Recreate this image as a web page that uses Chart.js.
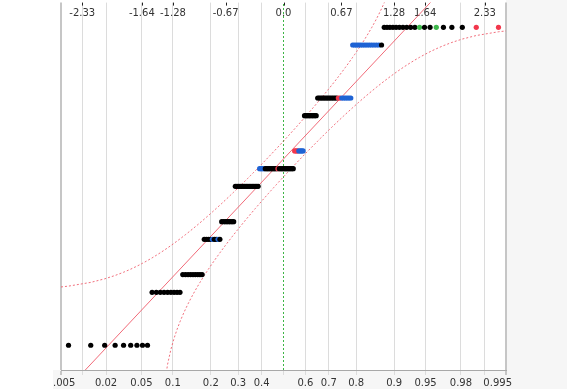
<!DOCTYPE html>
<html>
<head>
<meta charset="utf-8">
<script src="https://cdn.jsdelivr.net/npm/chart.js@4.4.1/dist/chart.umd.min.js"></script>
<style>
html,body{margin:0;padding:0;background:#fff;overflow:hidden}
#wrap{width:567px;height:389px;position:relative}
</style>
</head>
<body>
<div id="wrap"><canvas id="c" width="567" height="389"></canvas></div>
<script>
// ---- data ----
const levels = [0, 3, 4, 6, 7, 9, 10, 11, 13, 14, 17, 18];          // observed values (sorted)
const counts = [9, 9, 9, 9, 8, 16, 25, 7, 9, 21, 14, 19];            // how many observations at each value
const blueRanks  = [32, 35, 61, 62, 63, 64, 89, 90, 91, 92, 117, 118, 119, 120, 121, 122,
                    123, 124, 125, 126, 127, 128, 129, 130, 131, 132, 133, 134, 135];
const redRanks   = [74, 86, 87, 88, 115, 116, 154, 155];
const greenRanks = [147, 150];
const bottomTickProbs  = [0.005, 0.01, 0.02, 0.05, 0.1, 0.2, 0.3, 0.4, 0.5, 0.6, 0.7, 0.8, 0.9, 0.95, 0.98, 0.99, 0.995];
const bottomTickLabels = ['0.005', '', '0.02', '0.05', '0.1', '0.2', '0.3', '0.4', '', '0.6', '0.7', '0.8', '0.9', '0.95', '0.98', '', '0.995'];
const topTickLabels    = ['-2.33', '-1.64', '-1.28', '-0.67', '0.0', '0.67', '1.28', '1.64', '2.33'];
const bandWidth = 0.077;   // half-width of the confidence band (probability units)
const yRange = [-1.4, 19.4];

// ---- normal distribution helpers ----
function probit(p){
  const a=[-3.969683028665376e+01,2.209460984245205e+02,-2.759285104469687e+02,1.383577518672690e+02,-3.066479806614716e+01,2.506628277459239e+00];
  const b=[-5.447609879822406e+01,1.615858368580409e+02,-1.556989798598866e+02,6.680131188771972e+01,-1.328068155288572e+01];
  const c=[-7.784894002430293e-03,-3.223964580411365e-01,-2.400758277161838e+00,-2.549732539343734e+00,4.374664141464968e+00,2.938163982698783e+00];
  const d=[7.784695709041462e-03,3.224671290700398e-01,2.445134137142996e+00,3.754408661907416e+00];
  const pl=0.02425, ph=1-pl; let q,r;
  if(p<pl){q=Math.sqrt(-2*Math.log(p));return (((((c[0]*q+c[1])*q+c[2])*q+c[3])*q+c[4])*q+c[5])/((((d[0]*q+d[1])*q+d[2])*q+d[3])*q+1);}
  if(p>ph){q=Math.sqrt(-2*Math.log(1-p));return -(((((c[0]*q+c[1])*q+c[2])*q+c[3])*q+c[4])*q+c[5])/((((d[0]*q+d[1])*q+d[2])*q+d[3])*q+1);}
  q=p-0.5;r=q*q;
  return (((((a[0]*r+a[1])*r+a[2])*r+a[3])*r+a[4])*r+a[5])*q/(((((b[0]*r+b[1])*r+b[2])*r+b[3])*r+b[4])*r+1);
}
function cdf(z){
  const t=1/(1+0.2316419*Math.abs(z));
  const dd=0.3989422804*Math.exp(-z*z/2);
  const pr=dd*t*(0.319381530+t*(-0.356563782+t*(1.781477937+t*(-1.821255978+t*1.330274429))));
  return z>0?1-pr:pr;
}

// ---- build probability plot ----
const obs = [];
levels.forEach((v,i)=>{ for(let k=0;k<counts[i];k++) obs.push(v); });
const n = obs.length;
const points = obs.map((v,k)=>({x: probit((k+1)/(n+1)), y: v}));
const pointColors = obs.map((v,k)=>{
  const r=k+1;
  if(blueRanks.includes(r)) return '#1f63d4';
  if(redRanks.includes(r)) return '#f2374c';
  if(greenRanks.includes(r)) return '#3fb84c';
  return '#000000';
});
const mean = obs.reduce((s,v)=>s+v,0)/n;
const sd = Math.sqrt(obs.reduce((s,v)=>s+(v-mean)*(v-mean),0)/(n-1));
const zMin = probit(bottomTickProbs[0]);
const zMax = probit(bottomTickProbs[bottomTickProbs.length-1]);
const fitLine = [{x:zMin, y:mean+sd*zMin},{x:zMax, y:mean+sd*zMax}];
const bandZ = [zMin, ...points.map(p=>p.x), zMax];
const bandUpper = bandZ.filter(z=>cdf(z)+bandWidth<1).map(z=>({x:z, y:mean+sd*probit(cdf(z)+bandWidth)}));
const bandLower = bandZ.filter(z=>cdf(z)-bandWidth>0).map(z=>({x:z, y:mean+sd*probit(cdf(z)-bandWidth)}));
const medianLine = [{x:0, y:yRange[0]},{x:0, y:yRange[1]}];

const FONT = {family:'"DejaVu Sans", Verdana, sans-serif', size:10};

const bgPlugin = {
  id:'bg',
  beforeDraw(chart){
    const {ctx, chartArea:a, width, height} = chart;
    ctx.save();
    ctx.fillStyle='#ffffff'; ctx.fillRect(0,0,width,height);
    ctx.fillStyle='#f6f6f6';
    ctx.fillRect(a.right,0,width-a.right,height);
    ctx.fillRect(a.left-8,a.bottom,width-(a.left-8),height-a.bottom);
    ctx.restore();
    // keep the last bottom label inside the axis strip
    const xs = chart.scales.x;
    if(xs.getLabelItems){
      const items = xs.getLabelItems(a);
      ctx.save(); ctx.font = `${FONT.size}px ${FONT.family}`;
      items.forEach(it=>{
        if(it.label==='0.995'){
          const w = ctx.measureText(it.label).width;
          const px = xs.getPixelForValue(zMax);
          it.options.translation[0] = Math.min(px, a.right+6-w/2);
        }
      });
      ctx.restore();
    }
  },
  beforeDatasetsDraw(chart){
    const {ctx, chartArea:a} = chart; const xs = chart.scales.x;
    ctx.save();
    ctx.font = `${FONT.size}px ${FONT.family}`;
    ctx.fillStyle='#333'; ctx.textAlign='center'; ctx.textBaseline='middle';
    topTickLabels.forEach(t=>{ ctx.fillText(t, xs.getPixelForValue(parseFloat(t)), a.top+11); });
    ctx.strokeStyle='#222'; ctx.lineWidth=1;
    topTickLabels.forEach(t=>{
      const px = Math.round(xs.getPixelForValue(parseFloat(t)))+0.5;
      ctx.beginPath(); ctx.moveTo(px,a.top); ctx.lineTo(px,a.top+3); ctx.stroke();
    });
    ctx.restore();
  },
  afterDraw(chart){
    const {ctx, chartArea:a, height} = chart;
    ctx.save(); ctx.fillStyle='#ffffff';
    ctx.fillRect(0,a.bottom+1,a.left-8,height-a.bottom-1);
    ctx.restore();
  }
};

const lastIdx = bottomTickProbs.length-1;
const midIdx = bottomTickProbs.indexOf(0.5);
new Chart(document.getElementById('c'), {
  type:'scatter',
  data:{datasets:[
    {label:'observations', data:points, backgroundColor:pointColors, pointRadius:2.6, pointBorderWidth:0, pointHoverRadius:2.6, order:0},
    {label:'fit', data:fitLine, showLine:true, borderColor:'rgba(240,90,105,0.9)', borderWidth:1, pointRadius:0, order:2},
    {label:'upper band', data:bandUpper, showLine:true, borderColor:'rgba(240,95,110,0.9)', borderWidth:1, borderDash:[2,2], pointRadius:0, order:3},
    {label:'lower band', data:bandLower, showLine:true, borderColor:'rgba(240,95,110,0.9)', borderWidth:1, borderDash:[2,2], pointRadius:0, order:3},
    {label:'median', data:medianLine, showLine:true, borderColor:'#3db545', borderWidth:1, borderDash:[2,2], pointRadius:0, order:4}
  ]},
  options:{
    responsive:false, animation:false, events:[], devicePixelRatio:1,
    layout:{padding:{left:61, right:61, top:0, bottom:0}},
    plugins:{legend:{display:false}, tooltip:{enabled:false}},
    scales:{
      x:{type:'linear', min:zMin, max:zMax,
        afterBuildTicks:s=>{ s.ticks = bottomTickProbs.map(p=>({value:probit(p)})); },
        afterFit:s=>{ s.height = 19; },
        ticks:{autoSkip:false, maxRotation:0, minRotation:0, color:'#333', font:FONT, padding:2,
               callback:(v,i)=>bottomTickLabels[i]},
        grid:{tickLength:5,
              color:c=>(c.index===0||c.index===lastIdx)?'#c6c6c6':(c.index===midIdx?'rgba(0,0,0,0)':'#dcdcdc'),
              tickColor:c=>(c.index===0||c.index===lastIdx)?'#c6c6c6':'#dcdcdc',
              lineWidth:c=>(c.index===0||c.index===lastIdx)?2:1},
        border:{display:true, color:'#a8a8a8', width:1}
      },
      y:{type:'linear', min:yRange[0], max:yRange[1], display:false}
    }
  },
  plugins:[bgPlugin]
});
</script>
</body>
</html>
